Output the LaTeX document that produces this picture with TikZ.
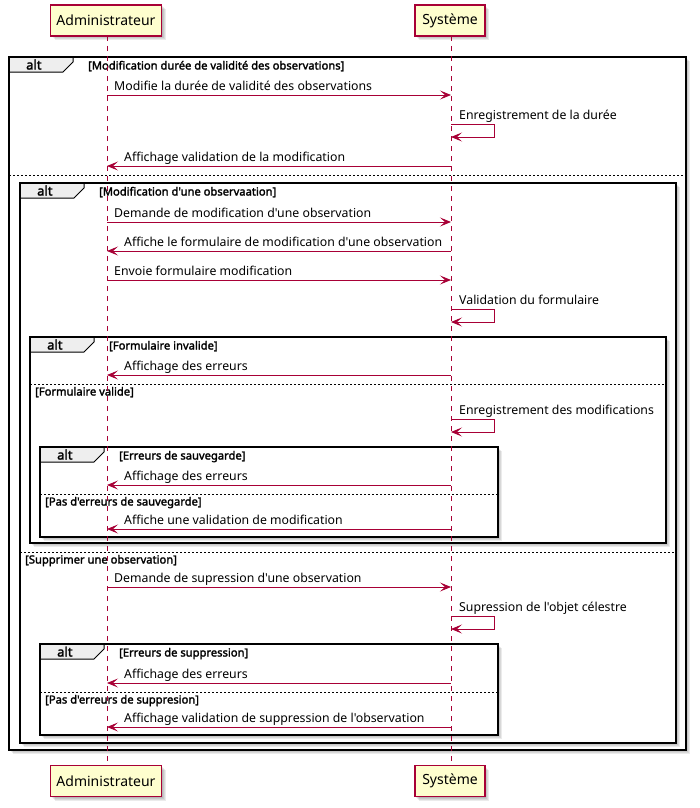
\documentclass[tikz,border=0pt]{standalone}
\usepackage{fontspec}
\newfontfamily\nf{Noto Sans}
\newfontfamily\nfb{Noto Sans}[FakeBold=2]
\usetikzlibrary{arrows.meta}
\definecolor{pred}{HTML}{A80036}
\definecolor{pfill}{HTML}{FEFECE}
\definecolor{tabgray}{HTML}{EEEEEE}
\tikzset{
 msg/.style={draw=pred, line width=0.9pt, -{Stealth[length=11pt,width=9pt,inset=5pt]}},
 lbl/.style={font=\nf\fontsize{12.3}{15}\selectfont, inner sep=0pt, anchor=base west},
 grd/.style={font=\nfb\fontsize{11.2}{13}\selectfont, inner sep=0pt, anchor=base west},
 altl/.style={font=\nfb\fontsize{13}{15}\selectfont, inner sep=0pt, anchor=base west},
 frm/.style={draw=black, line width=1.5pt},
 sepline/.style={draw=black, line width=0.8pt, dash pattern=on 2pt off 2pt},
 life/.style={draw=pred, line width=0.9pt, dash pattern=on 5pt off 5pt},
 part/.style={draw=pred, fill=pfill, line width=1.3pt, font=\nf\fontsize{14}{16}\selectfont, inner sep=0pt, minimum height=31pt}
}
\newcommand\shad[4]{\foreach \k in {1,2,3,4}{\fill[black,opacity=0.08] ({#1+\k},{#2+\k}) rectangle ({#3+\k},{#4+\k});}}
\newcommand\altbox[6]{% name x1 y1 x2 y2 guard
  \shad{#2}{#3}{#4}{#5}
  \fill[white] (#2,#3) rectangle (#4,#5);
  \fill[tabgray] (#2,#3) -- ({#2+64},#3) -- ({#2+64},{#3+5}) -- ({#2+54},{#3+15}) -- (#2,{#3+15}) -- cycle;
  \draw[frm] (#2,#3) rectangle (#4,#5);
  \draw[black,line width=1pt] ({#2+64},#3) -- ({#2+64},{#3+5}) -- ({#2+54},{#3+15}) -- (#2,{#3+15});
  \node[altl] (#1t) at ({#2+17},{#3+12.5}) {alt};
  \node[grd] (#1g) at ({#2+79},{#3+12.5}) {#6};
}
\newcommand\sepl[5]{% name x1 x2 y text
  \draw[sepline] (#2,#4) -- (#3,#4);
  \node[grd] (#1) at ({#2+5},{#4+11.5}) {#5};
}
\newcommand\mAS[2]{\coordinate (a#1) at (107,#1); \coordinate (s#1) at (451,#1);
  \draw[msg] (a#1) -- (s#1); \node[lbl] (t#1) at (114,{#1-5}) {#2};}
\newcommand\mSA[2]{\coordinate (a#1) at (107,#1); \coordinate (s#1) at (451,#1);
  \draw[msg] (s#1) -- (a#1); \node[lbl] (t#1) at (124,{#1-5}) {#2};}
\newcommand\mSS[2]{\coordinate (s#1) at (451,#1); \coordinate (r#1) at (494,#1);
  \coordinate (q#1) at (494,{#1+13}); \coordinate (e#1) at (451,{#1+13});
  \draw[msg] (s#1) -- (r#1) -- (q#1) -- (e#1); \node[lbl] (t#1) at (459,{#1-5}) {#2};}
\newcommand\ap{\char"0027\relax}
\begin{document}
\begin{tikzpicture}[x=1pt,y=-1pt]
\useasboundingbox (0,0) rectangle (699,808);
% frames
\altbox{f1}{9}{57}{686}{750}{[Modification durée de validité des observations]}
\sepl{e1}{9}{686}{175}{}
\altbox{f2}{20}{183}{676}{743}{[Modification d\ap une observaation]}
\altbox{f3}{30}{337}{666}{543}{[Formulaire invalide]}
\sepl{e3}{30}{666}{384}{[Formulaire valide]}
\altbox{f4}{40}{447}{498}{537}{[Erreurs de sauvegarde]}
\sepl{e4}{40}{498}{494}{[Pas d\ap erreurs de sauvegarde]}
\sepl{e2}{20}{676}{552}{[Supprimer une observation]}
\altbox{f5}{40}{644}{498}{735}{[Erreurs de suppression]}
\sepl{e5}{40}{498}{692}{[Pas d\ap erreurs de suppresion]}
% participants
\shad{50.5}{5}{161.5}{36}
\shad{415}{5}{485}{36}
\shad{50.5}{765.5}{161.5}{796.5}
\shad{415}{765.5}{485}{796.5}
\node[part, minimum width=111pt] (A) at (106,20.5) {Administrateur};
\node[part, minimum width=70pt] (S) at (450,20.5) {Système};
\node[part, minimum width=111pt] (Ab) at (106,781) {Administrateur};
\node[part, minimum width=70pt] (Sb) at (450,781) {Système};
\draw[life] (107,36) coordinate (la) -- (107,765) coordinate (lab);
\draw[life] (451,36) coordinate (ls) -- (451,765) coordinate (lsb);
% messages
\mAS{95}{Modifie la durée de validité des observations}
\mSS{124}{Enregistrement de la durée}
\mSA{166}{Affichage validation de la modification}
\mAS{222}{Demande de modification d\ap une observation}
\mSA{251}{Affiche le formulaire de modification d\ap une observation}
\mAS{280}{Envoie formulaire modification}
\mSS{309}{Validation du formulaire}
\mSA{375}{Affichage des erreurs}
\mSS{419}{Enregistrement des modifications}
\mSA{485}{Affichage des erreurs}
\mSA{529}{Affiche une validation de modification}
\mAS{587}{Demande de supression d\ap une observation}
\mSS{616}{Supression de l\ap objet célestre}
\mSA{683}{Affichage des erreurs}
\mSA{727}{Affichage validation de suppression de l\ap observation}
\end{tikzpicture}
\end{document}
